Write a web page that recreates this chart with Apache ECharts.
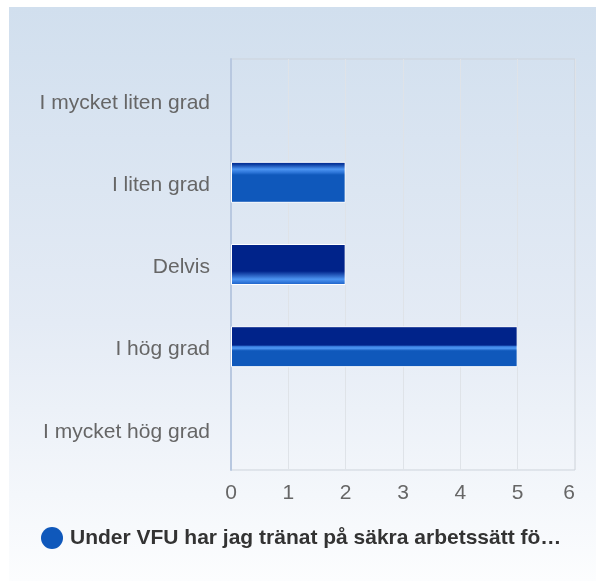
<!DOCTYPE html>
<html>
<head>
<meta charset="utf-8">
<script src="https://cdn.jsdelivr.net/npm/echarts@6/dist/echarts.min.js"></script>
<style>
  html, body { margin: 0; padding: 0; background: #ffffff; }
  #chart { width: 596px; height: 581px; }
</style>
</head>
<body>
<div id="chart"></div>
<script>
// answers, top to bottom
const categories = ['I mycket liten grad', 'I liten grad', 'Delvis', 'I hög grad', 'I mycket hög grad']
const counts = [0, 2, 2, 5, 0]
const seriesName = 'Under VFU har jag tränat på säkra arbetssätt fö…'
const xTicks = [0, 1, 2, 3, 4, 5, 6]

const DARK = '#00238a'
const LIGHT = '#4d95f2'
const MID = '#0f58bb'

// glossy stripe sits at a different height on each bar
const glossStops = [
  null,
  [[0, DARK], [0.06, '#0a3a9e'], [0.18, LIGHT], [0.26, '#2c75d8'], [0.32, MID], [1, MID]],
  [[0, DARK], [0.66, DARK], [0.86, LIGHT], [0.95, '#2a70d4'], [1, '#1a60c4']],
  [[0, DARK], [0.46, DARK], [0.5, '#3d85e6'], [0.54, LIGHT], [0.6, MID], [1, MID]],
  null
]

function barColor(i) {
  const stops = glossStops[i]
  if (!stops) return MID
  return new echarts.graphic.LinearGradient(0, 0, 0, 1,
    stops.map(s => ({ offset: s[0], color: s[1] })))
}

const chart = echarts.init(document.getElementById('chart'), null, { renderer: 'canvas' })

const font = '"Liberation Sans", Arial, sans-serif'

chart.setOption({
  animation: false,
  textStyle: { fontFamily: font },
  graphic: [{
    type: 'rect',
    silent: true,
    z: -10,
    shape: { x: 9, y: 7, width: 587, height: 574 },
    style: {
      fill: new echarts.graphic.LinearGradient(0, 0, 0, 1, [
        { offset: 0, color: '#d1dfee' },
        { offset: 0.55, color: '#e4ebf5' },
        { offset: 1, color: '#fcfdfe' }
      ])
    }
  }],
  grid: {
    left: 231, top: 59, right: 21, bottom: 111,
    show: true,
    borderColor: '#cdd3db',
    borderWidth: 1,
    backgroundColor: 'transparent'
  },
  legend: {
    left: 41, top: 527,
    padding: 0,
    icon: 'circle',
    itemWidth: 22, itemHeight: 22,
    itemGap: 8,
    itemStyle: { borderWidth: 0 },
    textStyle: { fontFamily: font, fontSize: 21, fontWeight: 'bold', color: '#333333', padding: [0, 0, 0, 2] },
    data: [seriesName]
  },
  xAxis: {
    type: 'value',
    min: xTicks[0], max: xTicks[xTicks.length - 1], interval: 1,
    axisLine: { show: false },
    axisTick: { show: false },
    splitLine: { show: true, lineStyle: { color: '#dfe3e8', width: 1 } },
    axisLabel: { color: '#666666', fontSize: 21, margin: 13, fontFamily: font, alignMaxLabel: 'right' }
  },
  yAxis: {
    type: 'category',
    inverse: true,
    data: categories,
    axisLine: { show: true, lineStyle: { color: '#b8c8e0', width: 2 } },
    axisTick: { show: false },
    splitLine: { show: false },
    axisLabel: {
      margin: 21,
      formatter: v => '{a|' + v + '}',
      rich: {
        a: { color: '#666666', fontSize: 21, fontFamily: font, padding: [6, 0, 0, 0] }
      }
    }
  },
  series: [{
    name: seriesName,
    type: 'bar',
    barWidth: 41,
    itemStyle: { color: MID, borderColor: '#ffffff', borderWidth: 1 },
    data: counts.map((v, i) => ({
      value: v,
      itemStyle: { color: barColor(i), borderWidth: v > 0 ? 1 : 0 }
    }))
  }]
})
</script>
</body>
</html>
